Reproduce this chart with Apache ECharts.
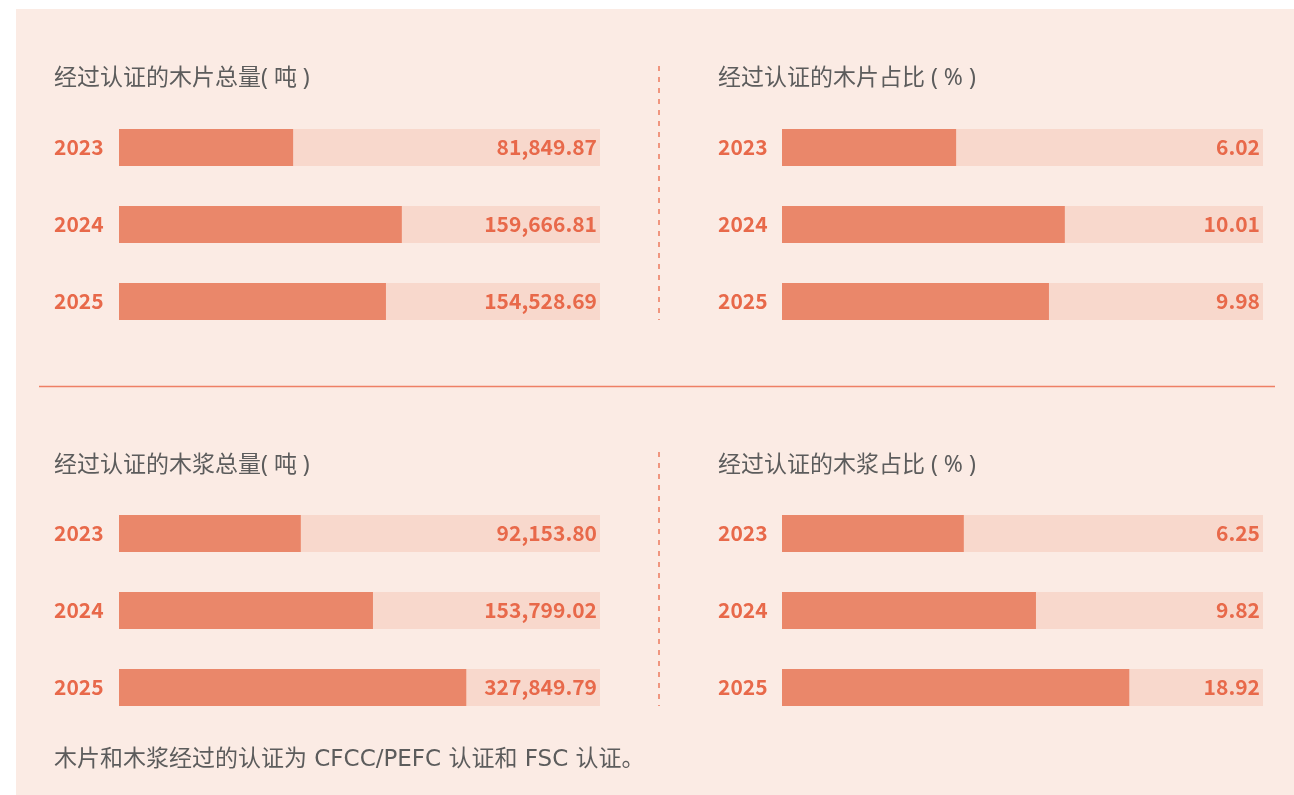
<!DOCTYPE html>
<html>
<head>
<meta charset="utf-8">
<script src="https://cdn.jsdelivr.net/npm/echarts@6/dist/echarts.min.js"></script>
<style>
  html, body { margin: 0; padding: 0; background: #fff; }
  #chart-box { width: 1294px; height: 795px; }
</style>
</head>
<body>
<div id="chart-box"></div>
<script>
// data
const years = ['2023', '2024', '2025']
const chipTotal = [81849.87, 159666.81, 154528.69]   // 吨
const chipShare = [6.02, 10.01, 9.98]                // %
const pulpTotal = [92153.80, 153799.02, 327849.79]   // 吨
const pulpShare = [6.25, 9.82, 18.92]                // %
// how far each bar is filled in the source graphic (% of the track), it is not to scale with the values
const chipFill = [36.2, 58.8, 55.5]
const pulpFill = [37.8, 52.8, 72.2]
const titles = ['经过认证的木片总量( 吨 )', '经过认证的木片占比 ( % )', '经过认证的木浆总量( 吨 )', '经过认证的木浆占比 ( % )']
const note = '木片和木浆经过的认证为 CFCC/PEFC 认证和 FSC 认证。'

const NUM_FONT = '"Noto Sans CJK SC", sans-serif'
const TITLE_FONT = '"Noto Sans", "Noto Sans CJK SC", sans-serif'
const NOTE_FONT = '"DejaVu Sans", "Noto Sans CJK SC", sans-serif'
const ORANGE = '#E8694A'
const FILL = '#EA876A'
const TRACK = '#F8D8CC'

const fmtTon = v => v.toLocaleString('en-US', {minimumFractionDigits: 2, maximumFractionDigits: 2})
const fmtPct = v => v.toFixed(2)

const panels = [
  {left: 119, top: 109, fill: chipFill, values: chipTotal, fmt: fmtTon},
  {left: 782, top: 109, fill: chipFill, values: chipShare, fmt: fmtPct},
  {left: 119, top: 495, fill: pulpFill, values: pulpTotal, fmt: fmtTon},
  {left: 782, top: 495, fill: pulpFill, values: pulpShare, fmt: fmtPct}
]

const chart = echarts.init(document.getElementById('chart-box'))

const grid = [], xAxis = [], yAxis = [], series = []
panels.forEach((p, i) => {
  grid.push({left: p.left, top: p.top, width: 481, height: 231})
  xAxis.push({gridIndex: i, type: 'value', min: 0, max: 100, show: false})
  yAxis.push({
    gridIndex: i,
    type: 'category',
    inverse: true,
    data: years,
    axisLine: {show: false},
    axisTick: {show: false},
    axisLabel: {
      align: 'left',
      margin: p.left === 119 ? 65 : 64,
      color: ORANGE,
      fontSize: 21,
      fontWeight: 'bold',
      fontFamily: NUM_FONT
    }
  })
  // track with the value label
  series.push({
    type: 'bar',
    xAxisIndex: i,
    yAxisIndex: i,
    barWidth: 37,
    barGap: '-100%',
    silent: true,
    itemStyle: {color: TRACK},
    label: {
      show: true,
      position: 'insideRight',
      distance: 3,
      color: ORANGE,
      fontSize: 21,
      fontWeight: 'bold',
      fontFamily: NUM_FONT,
      formatter: params => p.fmt(p.values[params.dataIndex])
    },
    data: years.map(() => 100)
  })
  // filled part
  series.push({
    type: 'bar',
    xAxisIndex: i,
    yAxisIndex: i,
    barWidth: 37,
    barGap: '-100%',
    silent: true,
    itemStyle: {color: FILL},
    data: p.fill
  })
})

const textItem = (text, x, y, font) => ({
  type: 'text',
  x: x,
  y: y,
  style: {text: text, fill: '#5C5C5C', font: '23px ' + font, verticalAlign: 'middle'}
})

const option = {
  backgroundColor: '#fff',
  animation: false,
  grid: grid,
  xAxis: xAxis,
  yAxis: yAxis,
  series: series,
  graphic: [
    {type: 'rect', z: -10, shape: {x: 16, y: 9, width: 1278, height: 786}, style: {fill: '#FBEBE4'}},
    textItem(titles[0], 54, 78, TITLE_FONT),
    textItem(titles[1], 718, 78, TITLE_FONT),
    textItem(titles[2], 54, 465, TITLE_FONT),
    textItem(titles[3], 718, 465, TITLE_FONT),
    textItem(note, 54, 760, NOTE_FONT),
    // separators
    {type: 'line', shape: {x1: 39, y1: 386.5, x2: 1275, y2: 386.5}, style: {stroke: '#EE7F65', lineWidth: 1.5}},
    {type: 'line', shape: {x1: 659, y1: 66, x2: 659, y2: 320}, style: {stroke: '#F0957E', lineWidth: 2, lineDash: [5, 6]}},
    {type: 'line', shape: {x1: 659, y1: 452, x2: 659, y2: 706}, style: {stroke: '#F0957E', lineWidth: 2, lineDash: [5, 6]}}
  ]
}
chart.setOption(option)
</script>
</body>
</html>
